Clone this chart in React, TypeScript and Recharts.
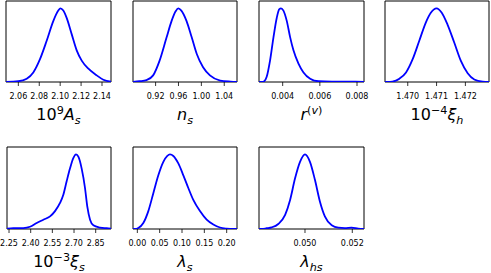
import React from 'react';
import { LineChart, Line, XAxis, YAxis, ReferenceArea } from 'recharts';

// 10^9 A_s
const asX = [2.0482, 2.06, 2.068, 2.0743, 2.0807, 2.0871, 2.0935, 2.0982, 2.1002, 2.103, 2.1062, 2.111, 2.1158, 2.1206, 2.127, 2.135, 2.1413, 2.1486];
const asY = [0, 0.01, 0.045, 0.13, 0.31, 0.56, 0.83, 0.97, 1.0, 0.97, 0.87, 0.65, 0.43, 0.29, 0.18, 0.09, 0.03, 0.005];
const asTicks = [2.06, 2.08, 2.10, 2.12, 2.14];

// n_s
const nsX = [0.8805, 0.892, 0.904, 0.9157, 0.927, 0.939, 0.948, 0.955, 0.9597, 0.965, 0.974, 0.983, 0.992, 1.003, 1.015, 1.033, 1.051, 1.0623];
const nsY = [0, 0.01, 0.025, 0.09, 0.29, 0.6, 0.83, 0.96, 1.0, 0.97, 0.83, 0.61, 0.38, 0.2, 0.09, 0.02, 0.005, 0];
const nsTicks = [0.92, 0.96, 1.00, 1.04];

// r^(v)
const rX = [0.002726, 0.00287, 0.00301, 0.00314, 0.00332, 0.0035, 0.00368, 0.00382, 0.00391, 0.00404, 0.00422, 0.0044, 0.00458, 0.00485, 0.00512, 0.00548, 0.00593, 0.00665, 0.00737, 0.00791, 0.008376];
const rY = [0, 0, 0.01, 0.07, 0.29, 0.6, 0.87, 0.99, 1.0, 0.97, 0.83, 0.61, 0.43, 0.25, 0.13, 0.045, 0.01, 0.005, 0.004, 0.006, 0.002];
const rTicks = [0.004, 0.006, 0.008];

// 10^-4 xi_h
const xhX = [1.46921, 1.4693, 1.46947, 1.46971, 1.46994, 1.47017, 1.4704, 1.47063, 1.4708, 1.471, 1.47118, 1.47138, 1.47161, 1.47184, 1.47208, 1.47231, 1.4726, 1.47282];
const xhY = [0, 0, 0.005, 0.045, 0.13, 0.31, 0.56, 0.81, 0.94, 1.0, 0.94, 0.78, 0.54, 0.29, 0.12, 0.035, 0.005, 0];
const xhTicks = [1.470, 1.471, 1.472];

// 10^-3 xi_s
const xsX = [2.236, 2.28, 2.349, 2.395, 2.4416, 2.4877, 2.534, 2.5685, 2.603, 2.626, 2.649, 2.672, 2.695, 2.714, 2.73, 2.753, 2.776, 2.792, 2.811, 2.834, 2.88, 2.926, 2.956];
const xsY = [0.005, 0.01, 0.013, 0.03, 0.08, 0.125, 0.17, 0.24, 0.35, 0.46, 0.64, 0.81, 0.95, 1.0, 0.97, 0.81, 0.55, 0.30, 0.125, 0.05, 0.02, 0.01, 0.005];
const xsTicks = [2.25, 2.40, 2.55, 2.70, 2.85];

// lambda_s
const lsX = [-0.0097, -0.0052, 0.0022, 0.0134, 0.0246, 0.0358, 0.047, 0.0582, 0.0671, 0.0731, 0.0806, 0.0918, 0.103, 0.1141, 0.1253, 0.1402, 0.1552, 0.1701, 0.185, 0.2, 0.2148, 0.2231];
const lsY = [0, 0, 0.013, 0.08, 0.24, 0.48, 0.72, 0.9, 0.98, 1.0, 0.98, 0.88, 0.72, 0.55, 0.39, 0.24, 0.125, 0.06, 0.02, 0.005, 0, 0];
const lsTicks = [0.00, 0.05, 0.10, 0.15, 0.20];

// lambda_hs
const lhX = [0.048055, 0.04817, 0.04838, 0.04859, 0.04887, 0.04916, 0.04937, 0.04958, 0.04979, 0.05, 0.05021, 0.05042, 0.05063, 0.05084, 0.05113, 0.05141, 0.05169, 0.05197, 0.05225, 0.052495];
const lhY = [0, 0, 0.01, 0.022, 0.067, 0.19, 0.39, 0.68, 0.9, 1.0, 0.9, 0.66, 0.37, 0.17, 0.05, 0.018, 0.013, 0.018, 0.005, 0];
const lhTicks = [0.050, 0.052];

const FONT = 'DejaVu Sans';
const SUP = 6.5;
const SUB = 3.5;
const SMALL = 11.2;

const sup = (t: React.ReactNode, key: string) => (
  <tspan key={key} dy={-SUP} fontSize={SMALL}>{t}</tspan>
);

const labels: React.ReactNode[] = [
  [<tspan key="a">10</tspan>, sup('9', 'b'), <tspan key="c" dy={SUP} fontStyle="italic">A</tspan>, <tspan key="d" dy={SUB} fontSize={SMALL} fontStyle="italic">s</tspan>],
  [<tspan key="a" fontStyle="italic">n</tspan>, <tspan key="d" dy={SUB} fontSize={SMALL} fontStyle="italic">s</tspan>],
  [<tspan key="a" fontStyle="italic">r</tspan>, <tspan key="b" dy={-SUP} fontSize={SMALL}>(</tspan>, <tspan key="c" fontSize={SMALL} fontStyle="italic">v</tspan>, <tspan key="d" fontSize={SMALL}>)</tspan>],
  [<tspan key="a">10</tspan>, sup('\u22124', 'b'), <tspan key="c" dy={SUP} fontStyle="italic">ξ</tspan>, <tspan key="d" dy={SUB} fontSize={SMALL} fontStyle="italic">h</tspan>],
  [<tspan key="a">10</tspan>, sup('\u22123', 'b'), <tspan key="c" dy={SUP} fontStyle="italic">ξ</tspan>, <tspan key="d" dy={SUB} fontSize={SMALL} fontStyle="italic">s</tspan>],
  [<tspan key="a" fontStyle="italic">λ</tspan>, <tspan key="d" dy={SUB} fontSize={SMALL} fontStyle="italic">s</tspan>],
  [<tspan key="a" fontStyle="italic">λ</tspan>, <tspan key="d" dy={SUB} fontSize={SMALL} fontStyle="italic">hs</tspan>],
];

type PanelDef = {
  xs: number[];
  ys: number[];
  ticks: number[];
  digits: number;
  left: number;
  right: number;
  top: number;
  bottom: number;
  label: React.ReactNode;
};

const panels: PanelDef[] = [
  { xs: asX, ys: asY, ticks: asTicks, digits: 2, left: 6, right: 111, top: 1, bottom: 82, label: labels[0] },
  { xs: nsX, ys: nsY, ticks: nsTicks, digits: 2, left: 133, right: 237, top: 1, bottom: 82, label: labels[1] },
  { xs: rX, ys: rY, ticks: rTicks, digits: 3, left: 259, right: 364, top: 1, bottom: 82, label: labels[2] },
  { xs: xhX, ys: xhY, ticks: xhTicks, digits: 3, left: 385, right: 489, top: 1, bottom: 82, label: labels[3] },
  { xs: xsX, ys: xsY, ticks: xsTicks, digits: 2, left: 7, right: 111, top: 147, bottom: 229, label: labels[4] },
  { xs: lsX, ys: lsY, ticks: lsTicks, digits: 2, left: 133, right: 237, top: 147, bottom: 229, label: labels[5] },
  { xs: lhX, ys: lhY, ticks: lhTicks, digits: 3, left: 259, right: 364, top: 147, bottom: 229, label: labels[6] },
];

const ML = 14;
const MT = 3;
const AXIS_H = 50;
const LABEL_OFF = 38;

function Panel({ p }: { p: PanelDef }) {
  const plotW = p.right - p.left;
  const plotH = p.bottom - p.top;
  const W = plotW + 2 * ML;
  const H = MT + plotH + AXIS_H;
  const data = p.xs.map((x, i) => ({ x, y: p.ys[i] }));
  const domain: [number, number] = [p.xs[0], p.xs[p.xs.length - 1]];
  const renderLabel = () => (
    <text
      x={ML + plotW / 2}
      y={MT + plotH + LABEL_OFF}
      textAnchor="middle"
      fontFamily={FONT}
      fontSize={16}
      fill="#000"
    >
      {p.label}
    </text>
  );
  return (
    <div style={{ position: 'absolute', left: p.left - ML, top: p.top - MT, width: W, height: H }}>
      <LineChart width={W} height={H} data={data} margin={{ top: MT, right: ML, left: ML, bottom: 0 }}>
        <XAxis
          dataKey="x"
          type="number"
          domain={domain}
          allowDataOverflow
          ticks={p.ticks}
          interval={0}
          tickFormatter={(v: number) => v.toFixed(p.digits)}
          tick={{ fontSize: 8, fill: '#000', fontFamily: FONT }}
          tickSize={4}
          tickMargin={7}
          tickLine={{ stroke: '#000', strokeWidth: 0.8 }}
          axisLine={false}
          height={AXIS_H}
          label={{ content: renderLabel }}
        />
        <YAxis type="number" domain={[0, 1.1]} allowDataOverflow hide width={0} />
        <ReferenceArea
          x1={domain[0]}
          x2={domain[1]}
          y1={0}
          y2={1.1}
          fill="none"
          fillOpacity={0}
          stroke="#000"
          strokeWidth={1}
          ifOverflow="visible"
        />
        <Line
          type="monotone"
          dataKey="y"
          stroke="#0000ff"
          strokeWidth={1.8}
          dot={false}
          activeDot={false}
          isAnimationActive={false}
        />
      </LineChart>
    </div>
  );
}

export default function App() {
  return (
    <div style={{ position: 'absolute', left: 0, top: 0, width: 491, height: 273, background: '#fff', overflow: 'hidden' }}>
      {panels.map((p, i) => (
        <Panel key={i} p={p} />
      ))}
    </div>
  );
}
